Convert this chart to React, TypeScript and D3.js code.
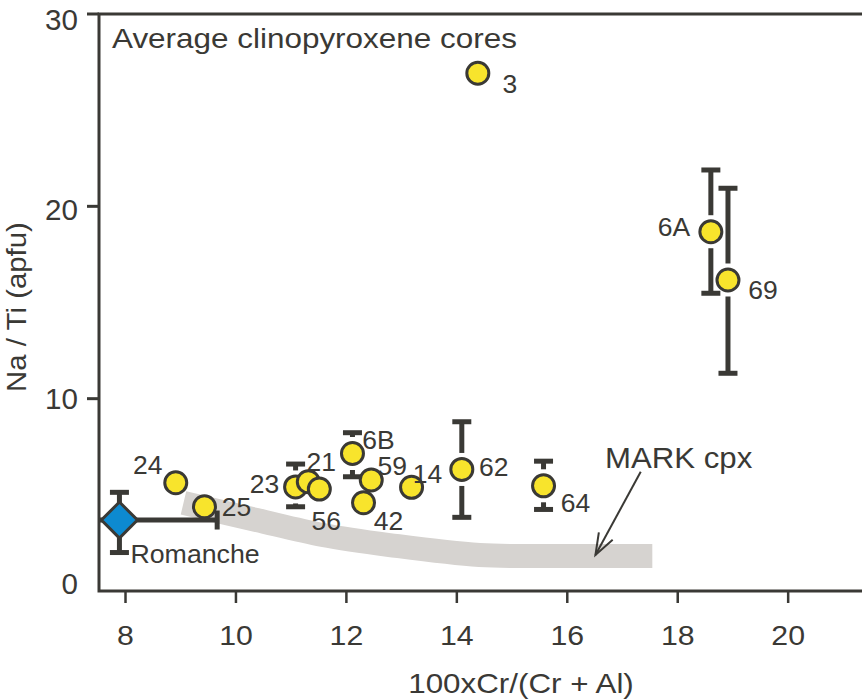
import React from 'react';
import * as d3 from 'd3';

// ---- data ----
const sampleIds = ['24', '25', '23', '21', '56', '6B', '42', '59', '14', '62', '3', '64', '6A', '69'];
const crNumber = [8.91, 9.43, 11.08, 11.31, 11.51, 12.11, 12.31, 12.45, 13.18, 14.09, 14.38, 15.57, 18.6, 18.91];
const naTi = [5.63, 4.38, 5.41, 5.68, 5.3, 7.15, 4.59, 5.77, 5.39, 6.32, 26.92, 5.47, 18.68, 16.17];
const naTiLow: (number | null)[] = [null, null, 4.38, null, null, 5.94, null, null, null, 3.83, null, 4.24, 15.48, 11.32];
const naTiHigh: (number | null)[] = [null, null, 6.6, null, null, 8.23, null, null, null, 8.8, null, 6.75, 21.89, 20.94];

// label offsets (pixels from point centre)
const labelDx = [-28, 32, -31, 13, 7, 26, 25, 21, 16, 32, 32, 32, -37, 35];
const labelDy = [-18, 0, -3, -20, 32, -13, 18, -14, -13, -2, 11, 17, -5, 10];

const romancheName = 'Romanche';
const romancheX = [7.89];
const romancheY = [3.69];
const romancheXErr = [6.12, 9.66];
const romancheYErr = [2.0, 5.13];

const markX = [9.05, 10.37, 11.57, 12.78, 14.41, 15.86, 17.54];
const markY = [4.58, 3.69, 2.91, 2.39, 1.87, 1.82, 1.82];
const arrowFrom = [17.33, 6.2];
const arrowTo = [16.51, 1.87];

const xTicks = [8, 10, 12, 14, 16, 18, 20];
const yTicks = [0, 10, 20, 30];
const yTickNudge = [-7, 0, 3, 6];

const titleText = 'Average clinopyroxene cores';
const xTitle = '100xCr/(Cr + Al)';
const yTitle = 'Na / Ti (apfu)';
const markLabel = 'MARK cpx';

// ---- styles ----
const W = 862;
const H = 699;
const INK = '#3a3935';
const YELLOW = '#f8e42c';
const BLUE = '#0d8ad0';
const BAND = '#d6d3d0';
const FONT = '"Liberation Sans", Arial, Helvetica, sans-serif';

type TProps = {
  x: number;
  y: number;
  sx?: number;
  size: number;
  anchor?: 'start' | 'middle' | 'end';
  dy?: string;
  rotate?: number;
  children: React.ReactNode;
};

function T({ x, y, sx = 1, size, anchor = 'start', dy, rotate = 0, children }: TProps) {
  return (
    <g transform={`translate(${x},${y}) rotate(${rotate}) scale(${sx},1)`}>
      <text x={0} y={0} dy={dy} textAnchor={anchor} fontSize={size} fill={INK}>
        {children}
      </text>
    </g>
  );
}

export default function App() {
  const x = d3.scaleLinear().domain([7.52, 21.5]).range([99, 871]);
  const y = d3.scaleLinear().domain([0, 30]).range([591, 14]);

  const R = 11;
  const SW = 3;
  const GAP = 4;
  const CAP = 9.5;

  const bandLine = d3
    .line<number>()
    .x((_, i) => x(markX[i]))
    .y((_, i) => y(markY[i]))
    .curve(d3.curveCatmullRom.alpha(0.5));
  const bandPath = bandLine(markX) || '';

  const ax0 = x(arrowFrom[0]);
  const ay0 = y(arrowFrom[1]);
  const ax1 = x(arrowTo[0]);
  const ay1 = y(arrowTo[1]);
  const ang = Math.atan2(ay0 - ay1, ax0 - ax1);
  const headLen = 23;
  const headAng = (20 * Math.PI) / 180;
  const h1 = [ax1 + headLen * Math.cos(ang - headAng), ay1 + headLen * Math.sin(ang - headAng)];
  const h2 = [ax1 + headLen * Math.cos(ang + headAng), ay1 + headLen * Math.sin(ang + headAng)];

  const [x0, x1] = x.domain();
  const [y0, y1] = y.domain();
  const left = x(x0);
  const right = x(x1);
  const top = y(y1);
  const bottom = y(y0);

  const rx = x(romancheX[0]);
  const ry = y(romancheY[0]);
  const D = 18;

  return (
    <svg
      width={W}
      height={H}
      style={{ position: 'absolute', left: 0, top: 0, background: '#fff' }}
      fontFamily={FONT}
    >
      <defs>
        <clipPath id="plotClip">
          <rect x={left} y={top} width={right - left} height={bottom - top} />
        </clipPath>
      </defs>

      {/* MARK cpx field */}
      <path d={bandPath} fill="none" stroke={BAND} strokeWidth={24} strokeLinecap="butt" />

      {/* Romanche */}
      <g clipPath="url(#plotClip)">
        <line x1={x(romancheXErr[0])} x2={x(romancheXErr[1])} y1={ry} y2={ry} stroke={INK} strokeWidth={5} />
        <line x1={x(romancheXErr[1])} x2={x(romancheXErr[1])} y1={ry - CAP} y2={ry + CAP} stroke={INK} strokeWidth={5} />
        <line x1={rx} x2={rx} y1={y(romancheYErr[1])} y2={y(romancheYErr[0])} stroke={INK} strokeWidth={5} />
        <line x1={rx - CAP} x2={rx + CAP} y1={y(romancheYErr[1])} y2={y(romancheYErr[1])} stroke={INK} strokeWidth={5} />
        <line x1={rx - CAP} x2={rx + CAP} y1={y(romancheYErr[0])} y2={y(romancheYErr[0])} stroke={INK} strokeWidth={5} />
        <path
          d={`M${rx},${ry - D}L${rx + D},${ry}L${rx},${ry + D}L${rx - D},${ry}Z`}
          fill={BLUE}
          stroke={INK}
          strokeWidth={3}
        />
      </g>
      <T x={rx + 11} y={ry + 43} size={25} sx={1.07}>
        {romancheName}
      </T>

      {/* error bars */}
      {sampleIds.map((id, i) => {
        const lo = naTiLow[i];
        const hi = naTiHigh[i];
        if (lo == null || hi == null) return null;
        const cx = x(crNumber[i]);
        const cy = y(naTi[i]);
        const off = R + SW / 2 + GAP;
        const yHi = y(hi);
        const yLo = y(lo);
        return (
          <g key={'e' + id} stroke={INK} strokeWidth={5}>
            <line x1={cx} x2={cx} y1={yHi} y2={cy - off} />
            <line x1={cx} x2={cx} y1={cy + off} y2={yLo} />
            <line x1={cx - CAP} x2={cx + CAP} y1={yHi} y2={yHi} />
            <line x1={cx - CAP} x2={cx + CAP} y1={yLo} y2={yLo} />
          </g>
        );
      })}

      {/* points */}
      {sampleIds.map((id, i) => (
        <circle
          key={'c' + id}
          cx={x(crNumber[i])}
          cy={y(naTi[i])}
          r={R}
          fill={YELLOW}
          stroke={INK}
          strokeWidth={SW}
        />
      ))}

      {/* point labels */}
      {sampleIds.map((id, i) => (
        <T
          key={'t' + id}
          x={x(crNumber[i]) + labelDx[i]}
          y={y(naTi[i]) + labelDy[i]}
          dy="0.36em"
          anchor="middle"
          size={25}
          sx={1.06}
        >
          {id}
        </T>
      ))}

      {/* MARK cpx label and arrow */}
      <T x={605} y={468} size={30} sx={1.04}>
        {markLabel}
      </T>
      <line x1={ax0} y1={ay0} x2={ax1} y2={ay1} stroke={INK} strokeWidth={2} />
      <polyline
        points={`${h1[0]},${h1[1]} ${ax1},${ay1} ${h2[0]},${h2[1]}`}
        fill="none"
        stroke={INK}
        strokeWidth={2}
      />

      {/* frame */}
      <rect x={left} y={top} width={right - left} height={bottom - top} fill="none" stroke={INK} strokeWidth={3} />

      {/* y ticks */}
      {yTicks.map((t, i) => (
        <g key={'yt' + t}>
          {t !== 0 && <line x1={left - 12} x2={left} y1={y(t)} y2={y(t)} stroke={INK} strokeWidth={3} />}
          <T x={78} y={y(t) + yTickNudge[i]} dy="0.36em" anchor="end" size={29} sx={1.02}>
            {t}
          </T>
        </g>
      ))}

      {/* x ticks */}
      {xTicks.map((t) => (
        <g key={'xt' + t}>
          <line x1={x(t)} x2={x(t)} y1={bottom} y2={bottom + 12} stroke={INK} strokeWidth={2.5} />
          <T x={x(t)} y={645} anchor="middle" size={28} sx={1.08}>
            {t}
          </T>
        </g>
      ))}

      {/* titles */}
      <T x={112} y={48} size={27} sx={1.165}>
        {titleText}
      </T>
      <T x={521} y={693} anchor="middle" size={28} sx={1.12}>
        {xTitle}
      </T>
      <T x={26} y={307} anchor="middle" size={28} sx={1.05} rotate={-90}>
        {yTitle}
      </T>
    </svg>
  );
}
